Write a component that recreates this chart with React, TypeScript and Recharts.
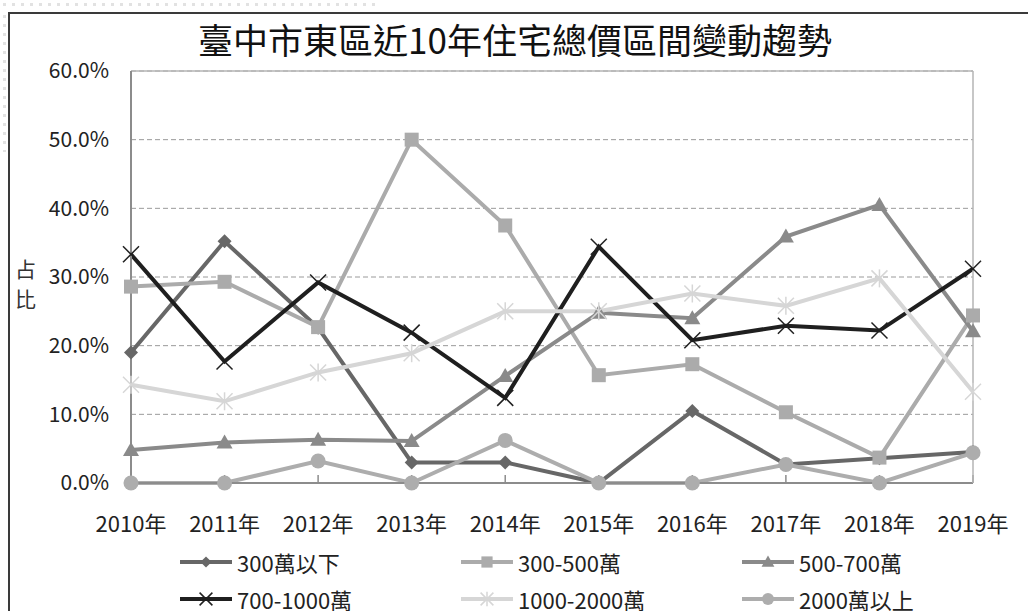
import React from 'react';
import { LineChart, Line, XAxis, YAxis, CartesianGrid, Legend } from 'recharts';

// share of transactions per total-price band, in percent
const years = ['2010年', '2011年', '2012年', '2013年', '2014年', '2015年', '2016年', '2017年', '2018年', '2019年'];
const under300 = [19.0, 35.2, 22.6, 3.0, 3.0, 0.0, 10.5, 2.7, 3.6, 4.5];
const from300to500 = [28.6, 29.3, 22.7, 50.0, 37.5, 15.7, 17.3, 10.3, 3.7, 24.4];
const from500to700 = [4.8, 5.9, 6.3, 6.1, 15.6, 24.8, 24.0, 35.9, 40.5, 22.1];
const from700to1000 = [33.3, 17.7, 29.2, 21.9, 12.4, 34.4, 20.8, 22.9, 22.2, 31.2];
const from1000to2000 = [14.3, 11.9, 16.1, 18.9, 25.0, 25.0, 27.6, 25.8, 29.8, 13.3];
const over2000 = [0.0, 0.0, 3.2, 0.0, 6.2, 0.0, 0.0, 2.7, 0.0, 4.4];
const yTicks = [0, 10, 20, 30, 40, 50, 60];
// band boundaries between the years, for the short inward ticks
const boundaryTicks = [1, 2, 3, 4, 5, 6, 7, 8, 9];

const FONT = '"Noto Sans CJK TC", "Noto Sans", sans-serif';

const WIDTH = 1028;
const HEIGHT = 611;

type Shape = 'diamond' | 'square' | 'triangle' | 'cross' | 'star' | 'circle';

const series: { key: string; name: string; values: number[]; color: string; shape: Shape }[] = [
  { key: 'a', name: '300萬以下', values: under300, color: '#676767', shape: 'diamond' },
  { key: 'b', name: '300-500萬', values: from300to500, color: '#ababab', shape: 'square' },
  { key: 'c', name: '500-700萬', values: from500to700, color: '#8a8a8a', shape: 'triangle' },
  { key: 'd', name: '700-1000萬', values: from700to1000, color: '#1f1f1f', shape: 'cross' },
  { key: 'e', name: '1000-2000萬', values: from1000to2000, color: '#d6d6d6', shape: 'star' },
  { key: 'f', name: '2000萬以上', values: over2000, color: '#adadad', shape: 'circle' },
];

const data = years.map((year, i) => {
  const row: Record<string, string | number> = { year };
  series.forEach((s) => (row[s.key] = s.values[i]));
  return row;
});

function Marker({ shape, cx, cy, color, s = 1 }: { shape: Shape; cx: number; cy: number; color: string; s?: number }) {
  switch (shape) {
    case 'diamond':
      return <polygon points={`${cx},${cy - 7 * s} ${cx + 7 * s},${cy} ${cx},${cy + 7 * s} ${cx - 7 * s},${cy}`} fill={color} />;
    case 'square':
      return <rect x={cx - 7 * s} y={cy - 7 * s} width={14 * s} height={14 * s} fill={color} />;
    case 'triangle':
      return <polygon points={`${cx},${cy - 8 * s} ${cx + 8 * s},${cy + 6 * s} ${cx - 8 * s},${cy + 6 * s}`} fill={color} />;
    case 'cross':
      return (
        <g stroke={color} strokeWidth={1.5}>
          <line x1={cx - 8 * s} y1={cy - 8 * s} x2={cx + 8 * s} y2={cy + 8 * s} />
          <line x1={cx - 8 * s} y1={cy + 8 * s} x2={cx + 8 * s} y2={cy - 8 * s} />
        </g>
      );
    case 'star':
      return (
        <g stroke={color} strokeWidth={1.5}>
          <line x1={cx - 8 * s} y1={cy - 8 * s} x2={cx + 8 * s} y2={cy + 8 * s} />
          <line x1={cx - 8 * s} y1={cy + 8 * s} x2={cx + 8 * s} y2={cy - 8 * s} />
          <line x1={cx} y1={cy - 9 * s} x2={cx} y2={cy + 9 * s} />
        </g>
      );
    default:
      return <circle cx={cx} cy={cy} r={7.5 * s} fill={color} />;
  }
}

const renderLegend = () => (
  <div style={{ display: 'grid', gridTemplateColumns: 'repeat(3, 281px)', fontFamily: FONT }}>
    {series.map((s) => (
      <div key={s.key} style={{ display: 'flex', alignItems: 'center', height: 37 }}>
        <svg width={54} height={20}>
          <line x1={0} y1={10} x2={52} y2={10} stroke={s.color} strokeWidth={4} />
          <Marker shape={s.shape} cx={26} cy={10} color={s.color} s={0.8} />
        </svg>
        <span style={{ marginLeft: 3, fontSize: 22, color: '#222' }}>{s.name}</span>
      </div>
    ))}
  </div>
);

export default function App() {
  return (
    <div style={{ position: 'fixed', left: 0, top: 0, width: WIDTH, height: HEIGHT, overflow: 'hidden', background: '#fff', fontFamily: FONT }}>
      <div
        style={{
          position: 'absolute', left: 0, top: 0, width: 380, height: 12,
          backgroundImage: 'radial-gradient(circle, #e2e2e2 1.5px, transparent 2px)', backgroundSize: '9px 9px',
        }}
      />
      <div
        style={{
          position: 'absolute', left: 0, top: 12, width: 8, height: 140,
          backgroundImage: 'radial-gradient(circle, #e2e2e2 1.5px, transparent 2px)', backgroundSize: '9px 9px',
        }}
      />
      <div style={{ position: 'absolute', left: 8, top: 12, width: 1100, height: 700, border: '2px solid #3a3a3a' }} />
      <div style={{ position: 'absolute', left: 0, top: 21, width: 1030, textAlign: 'center', fontSize: 35, lineHeight: '35px', color: '#111' }}>
        臺中市東區近10年住宅總價區間變動趨勢
      </div>
      <div style={{ position: 'absolute', left: 15, top: 253, fontSize: 21, lineHeight: '30px', color: '#333' }}>
        <div>占</div>
        <div>比</div>
      </div>
      <div style={{ position: 'absolute', left: 0, top: 0 }}>
        <LineChart width={WIDTH} height={HEIGHT} data={data} margin={{ top: 70, right: 54, bottom: 98, left: 0 }}>
          <CartesianGrid vertical={false} stroke="#9a9a9a" strokeDasharray="5 3" />
          {/* inward ticks on the band boundaries, drawn by a mirrored numeric axis */}
          <XAxis
            xAxisId="bounds"
            type="number"
            domain={[0, 10]}
            ticks={boundaryTicks}
            height={1}
            mirror
            axisLine={false}
            tick={() => <g />}
            tickSize={8}
            tickLine={{ stroke: '#8c8c8c', strokeWidth: 1.5 }}
          />
          <XAxis
            dataKey="year"
            height={30}
            tickSize={0}
            tickMargin={33}
            tickLine={false}
            axisLine={{ stroke: '#8c8c8c', strokeWidth: 2 }}
            tick={{ fontSize: 22, fill: '#222', fontFamily: FONT }}
            interval={0}
          />
          <XAxis xAxisId="top" dataKey="year" orientation="top" height={1} tick={false} tickLine={false} axisLine={{ stroke: '#b4b4b4', strokeWidth: 1.5 }} />
          <YAxis
            width={131}
            domain={[0, 60]}
            ticks={yTicks}
            tickFormatter={(v: number) => `${v.toFixed(1)}%`}
            tickSize={0}
            tickMargin={22}
            tickLine={false}
            axisLine={{ stroke: '#8c8c8c', strokeWidth: 2 }}
            tick={{ fontSize: 21, fill: '#222', fontFamily: FONT }}
          />
          <YAxis yAxisId="right" orientation="right" width={1} domain={[0, 60]} tick={false} tickLine={false} axisLine={{ stroke: '#b4b4b4', strokeWidth: 1.5 }} />
          <Legend layout="horizontal" verticalAlign="middle" align="center" content={renderLegend} wrapperStyle={{ left: 180, top: 543, width: 850 }} />
          {series.map((s) => (
            <Line
              key={s.key}
              dataKey={s.key}
              name={s.name}
              stroke={s.color}
              strokeWidth={4}
              isAnimationActive={false}
              dot={(p: any) => <Marker key={`${s.key}-${p.index}`} shape={s.shape} cx={p.cx} cy={p.cy} color={s.color} />}
              activeDot={false}
            />
          ))}
        </LineChart>
      </div>
    </div>
  );
}
